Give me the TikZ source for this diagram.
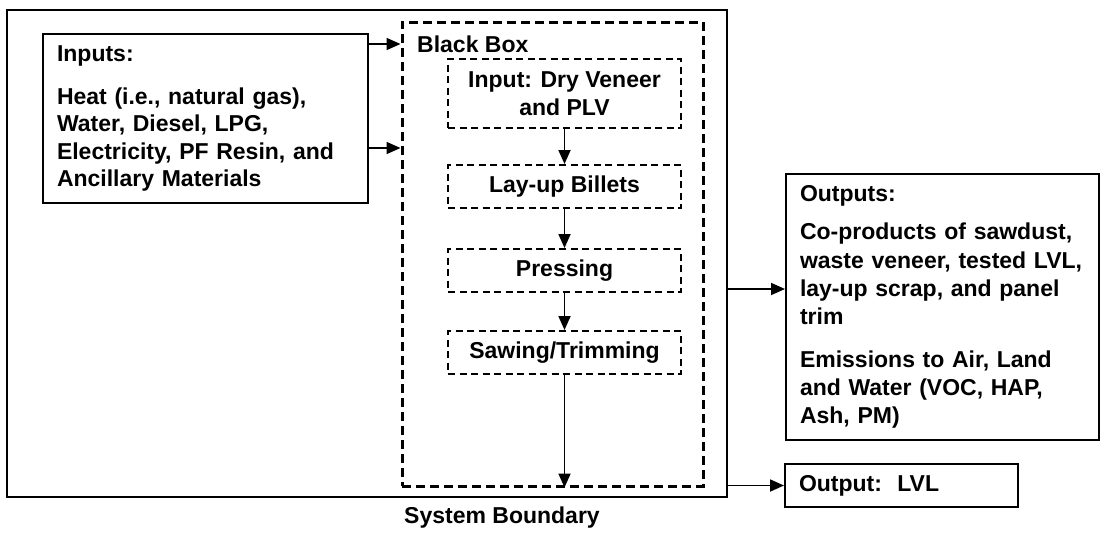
\documentclass[tikz,border=0pt]{standalone}
\usepackage{fontspec}
\setmainfont{Liberation Sans}
\usetikzlibrary{arrows.meta,positioning}

\begin{document}
\begin{tikzpicture}[x=1pt, y=-1pt,
  txt/.style={font=\fontsize{23}{27.5}\selectfont\bfseries},
  frame/.style={draw, line width=2pt, inner sep=0pt},
  bbox/.style={draw, line width=3pt, dash pattern=on 9pt off 5pt, inner sep=0pt},
  stepbox/.style={txt, draw, line width=2pt, dash pattern=on 7pt off 4.5pt, align=center,
              minimum width=233pt, minimum height=43pt, inner sep=0pt},
  listbox/.style={txt, frame, align=left, anchor=north west, inner xsep=14pt},
  arr/.style={-{Triangle[length=14pt,width=12pt]}, line width=1.8pt}
]
\useasboundingbox (0,0) rectangle (1100,533);

\node[frame, minimum width=720pt, minimum height=487pt] (sysb) at (367,253.5) {};
\node[bbox, minimum width=301pt, minimum height=464pt] (blackbox) at (552.5,254) {};
\node[txt, inner sep=0pt, anchor=west] (bblabel) at (417,44) {Black Box};

\node[listbox, text width=297pt, minimum height=169pt] (inputs) at (42,33)
  {Inputs:\\[15pt] Heat (i.e., natural gas),\\ Water, Diesel, LPG,\\ Electricity, PF Resin, and\\ Ancillary Materials};

\node[stepbox, minimum height=69pt, anchor=north] (dry) at (564.5,58) {Input: Dry Veneer\\and PLV};
\node[stepbox, below=35pt of dry] (layup) {Lay-up Billets};
\node[stepbox, below=39pt of layup] (press) {Pressing};
\node[stepbox, below=37pt of press] (saw) {Sawing/Trimming};

\node[listbox, text width=285pt, minimum height=266pt, font=\fontsize{23}{28.3}\selectfont\bfseries] (outputs) at (785,173)
  {Outputs:\\[10pt] Co-products of sawdust,\\ waste veneer, tested LVL,\\ lay-up scrap, and panel\\ trim\\[14pt]
   Emissions to Air, Land\\ and Water (VOC, HAP,\\ Ash, PM)};
\node[listbox, text width=205pt, minimum height=43pt] (lvl) at (784,463) {Output:\ \ LVL};

\node[txt, inner sep=0pt] (sblabel) at (502,518) {System Boundary};

\coordinate (inA) at (0,44);
\coordinate (inB) at (0,148);
\coordinate (outA) at (0,289);

\draw[arr] (inputs.east |- inA) -- (blackbox.west |- inA);
\draw[arr] (inputs.east |- inB) -- (blackbox.west |- inB);
\draw[arr] (dry) -- (layup);
\draw[arr] (layup) -- (press);
\draw[arr] (press) -- (saw);
\draw[arr] (saw) -- (saw |- blackbox.south);
\draw[arr] (sysb.east |- outA) -- (outputs.west |- outA);
\draw[arr] (sysb.east |- lvl) -- (lvl.west);
\end{tikzpicture}
\end{document}
